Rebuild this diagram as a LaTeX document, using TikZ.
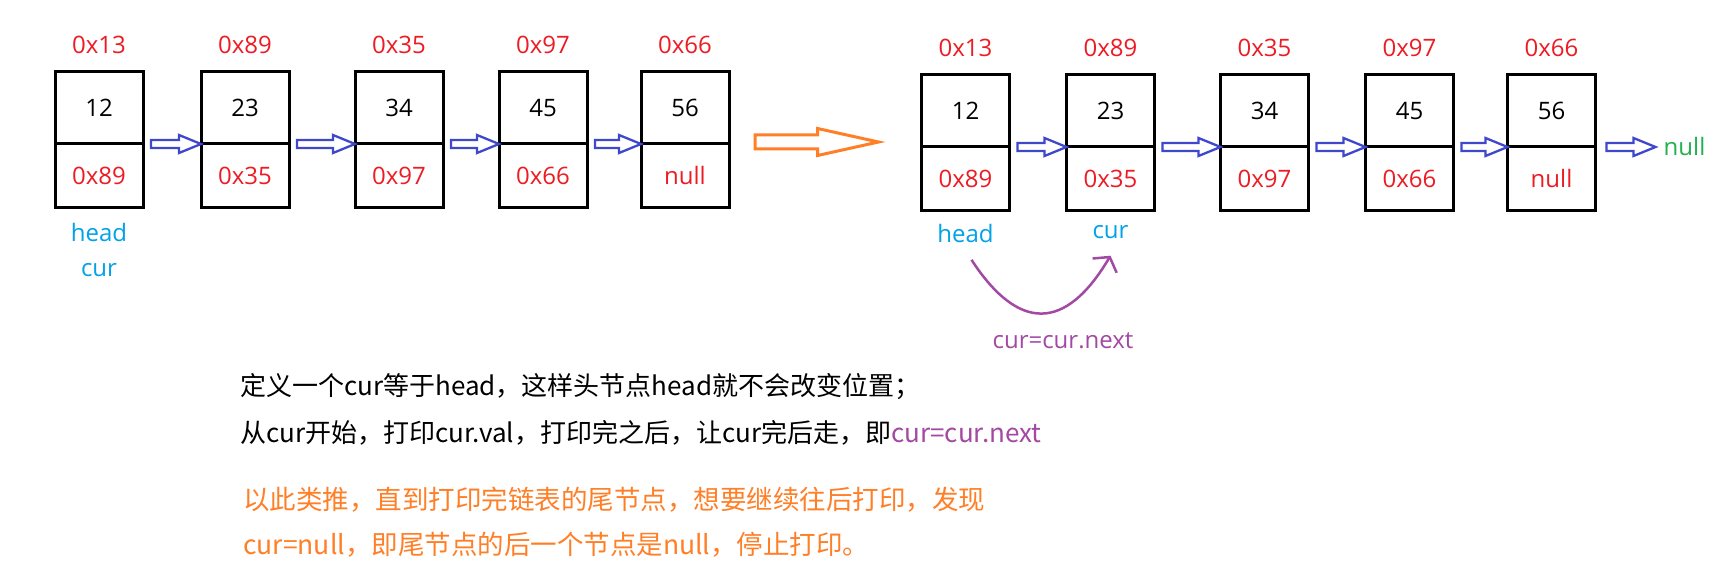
\documentclass[tikz,border=0pt]{standalone}
\usepackage{fontspec}
\setmainfont{Open Sans}
\newfontfamily\cjk{Noto Sans CJK SC}
\usepackage{xcolor}
\usepackage{tikz}
\usetikzlibrary{arrows.meta, positioning, calc}
\definecolor{addrred}{HTML}{ED1C24}
\definecolor{linkblue}{HTML}{3F48CC}
\definecolor{ptrblue}{HTML}{00A2E8}
\definecolor{movepurple}{HTML}{A349A4}
\definecolor{stepor}{HTML}{FF7F27}
\definecolor{endgreen}{HTML}{22B14C}
\tikzset{
  valcell/.style={rectangle, draw=black, line width=3pt, minimum width=88pt, minimum height=72pt, inner sep=0pt, outer sep=0pt, text centered, font=\fontsize{24}{24}\selectfont},
  ptrcell/.style={valcell, minimum height=64pt, text=addrred},
  addr/.style={inner sep=0pt, text=addrred, font=\fontsize{24}{24}\selectfont},
  refname/.style={inner sep=0pt, text=ptrblue, font=\fontsize{24}{24}\selectfont},
  hollow/.style n args={3}{to path={let \p1=(\tikztostart), \p2=(\tikztotarget) in
    (\x1,\y1+#1) -- (\x2-#3,\y1+#1) -- (\x2-#3,\y1+#2) -- (\x2,\y1) -- (\x2-#3,\y1-#2) -- (\x2-#3,\y1-#1) -- (\x1,\y1-#1) -- cycle}},
  link/.style={draw=linkblue, line width=2.3pt, hollow={4pt}{9pt}{22pt}},
  bigstep/.style={draw=stepor, line width=3pt, hollow={7pt}{13.5pt}{61pt}},
  move/.style={draw=movepurple, line width=2.5pt, -{Straight Barb[length=10pt, width=28pt]}},
  note/.style={inner sep=0pt, align=left, anchor=west, font=\cjk\fontsize{26}{47}\selectfont}
}

\begin{document}
\begin{tikzpicture}[x=1pt, y=-1pt]
\path[fill=white, use as bounding box] (0,0) rectangle (1714,585);

% list before the step
\node[valcell] (l1) at (99,108) {12};
\node[valcell, right=58pt of l1] (l2) {23};
\node[valcell, right=66pt of l2] (l3) {34};
\node[valcell, right=56pt of l3] (l4) {45};
\node[valcell, right=54pt of l4] (l5) {56};
\node[ptrcell, below=0pt of l1] (l1n) {0x89};
\node[ptrcell, below=0pt of l2] (l2n) {0x35};
\node[ptrcell, below=0pt of l3] (l3n) {0x97};
\node[ptrcell, below=0pt of l4] (l4n) {0x66};
\node[ptrcell, below=0pt of l5] (l5n) {null};

\node[addr, above=18pt of l1] (la1) {0x13};
\node[addr, above=18pt of l2] (la2) {0x89};
\node[addr, above=18pt of l3] (la3) {0x35};
\node[addr, above=18pt of l4] (la4) {0x97};
\node[addr, above=18pt of l5] (la5) {0x66};

\node[refname, below=15pt of l1n] (head1) {head};
\node[refname, below=21pt of head1] (cur1) {cur};

\draw[link] ([xshift=8pt]l1.south east) to (l2.south west);
\draw[link] ([xshift=8pt]l2.south east) to (l3.south west);
\draw[link] ([xshift=8pt]l3.south east) to (l4.south west);
\draw[link] ([xshift=8pt]l4.south east) to (l5.south west);

% list after one step
\node[valcell] (r1) at (965.5,111) {12};
\node[valcell, right=57pt of r1] (r2) {23};
\node[valcell, right=66pt of r2] (r3) {34};
\node[valcell, right=57pt of r3] (r4) {45};
\node[valcell, right=54pt of r4] (r5) {56};
\node[ptrcell, below=0pt of r1] (r1n) {0x89};
\node[ptrcell, below=0pt of r2] (r2n) {0x35};
\node[ptrcell, below=0pt of r3] (r3n) {0x97};
\node[ptrcell, below=0pt of r4] (r4n) {0x66};
\node[ptrcell, below=0pt of r5] (r5n) {null};

\node[addr, above=18pt of r1] (ra1) {0x13};
\node[addr, above=18pt of r2] (ra2) {0x89};
\node[addr, above=18pt of r3] (ra3) {0x35};
\node[addr, above=18pt of r4] (ra4) {0x97};
\node[addr, above=18pt of r5] (ra5) {0x66};

\node[refname, below=13pt of r1n] (head2) {head};
\node[refname, below=14pt of r2n] (cur2) {cur};
\node[inner sep=0pt, anchor=west, text=endgreen, font=\fontsize{24}{24}\selectfont] (endnull) at ([xshift=68pt]r5.south east) {null};

\draw[link] ([xshift=8pt]r1.south east) to (r2.south west);
\draw[link] ([xshift=8pt]r2.south east) to (r3.south west);
\draw[link] ([xshift=8pt]r3.south east) to (r4.south west);
\draw[link] ([xshift=8pt]r4.south east) to (r5.south west);
\draw[link] ([xshift=11pt]r5.south east) to ([xshift=-8pt]endnull.west);

% step between the two lists
\draw[bigstep] ([xshift=26pt, yshift=2pt]l5.south east) to ([xshift=-43pt]r1.south west);

\draw[move] ([xshift=6pt, yshift=-17pt]head2.south) .. controls +(47,72) and +(-45,76) .. ([yshift=-17pt]cur2.south);
\node[inner sep=0pt, text=movepurple, font=\fontsize{24}{24}\selectfont] (nextlbl) at (1063,341) {cur=cur.next};

% explanation
\node[note] (desc) at (240,409.5) {定义一个cur等于head，这样头节点head就不会改变位置；\\从cur开始，打印cur.val，打印完之后，让cur完后走，即\textcolor{movepurple}{cur=cur.next}};
\node[note, text=stepor, font=\cjk\fontsize{26.5}{45}\selectfont] (summary) at (243,522.5) {以此类推，直到打印完链表的尾节点，想要继续往后打印，发现\\cur=null，即尾节点的后一个节点是null，停止打印。};
\end{tikzpicture}
\end{document}
